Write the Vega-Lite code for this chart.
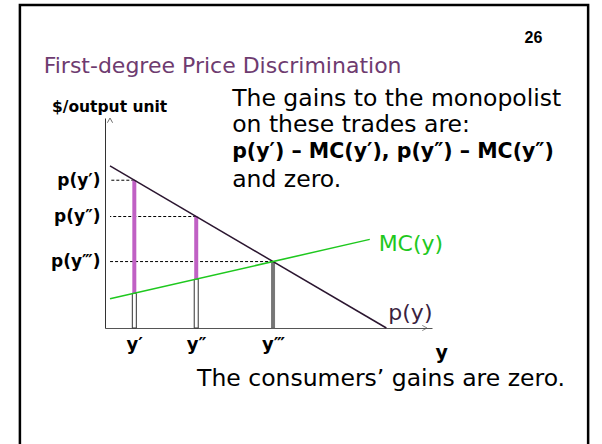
{
  "$schema": "https://vega.github.io/schema/vega-lite/v6.json",
  "autosize": "none",
  "width": 327,
  "height": 210,
  "padding": {"left": 105, "top": 118, "right": 170, "bottom": 116},
  "background": "white",
  "config": {"view": {"stroke": null}},
  "datasets": {
    "trades": [
      {"label": "y′", "plabel": "p(y′)", "q": 0.88, "p": 9.12, "mc": 2.14},
      {"label": "y″", "plabel": "p(y″)", "q": 3.12, "p": 6.88, "mc": 3.02},
      {"label": "y‴", "plabel": "p(y‴)", "q": 5.9, "p": 4.1, "mc": 4.1}
    ],
    "demand": [{"q": 0, "p": 10}, {"q": 10, "p": 0}],
    "mc": [{"q": 0, "p": 1.8}, {"q": 9.4, "p": 5.47}],
    "notes": [
      {"text": "26", "x": 15.0, "y": 17.9, "kind": "num"},
      {"text": "First-degree Price Discrimination", "x": -2.4, "y": 16.17, "kind": "title"},
      {"text": "$/output unit", "x": -2.1, "y": 13.64, "kind": "axis"},
      {"text": "The gains to the monopolist", "x": 4.42, "y": 14.12, "kind": "body"},
      {"text": "on these trades are:", "x": 4.42, "y": 12.54, "kind": "body"},
      {"text": "p(y′) – MC(y′), p(y″) – MC(y″)", "x": 4.42, "y": 10.86, "kind": "bold"},
      {"text": "and zero.", "x": 4.42, "y": 9.14, "kind": "body"},
      {"text": "The consumers’ gains are zero.", "x": 3.15, "y": -3.15, "kind": "body"}
    ]
  },
  "layer": [
    {
      "data": {"values": [{"x1": -3.26, "x2": 17.3, "y1": 19.94, "y2": -8.5}]},
      "mark": {"type": "rect", "fill": null, "stroke": "black", "strokeWidth": 2.5, "clip": false},
      "encoding": {
        "x": {"field": "x1", "type": "quantitative", "scale": {"domain": [0, 11.47], "nice": false, "zero": false}, "axis": {"values": [0.88, 3.12, 5.9], "labelExpr": "datum.value < 2 ? 'y′' : datum.value < 4 ? 'y″' : 'y‴'", "ticks": false, "grid": false, "title": null, "domainColor": "#555", "labelFont": "DejaVu Sans", "labelFontWeight": "bold", "labelFontSize": 18, "labelColor": "black", "labelPadding": 7, "labelFlush": false}},
        "x2": {"field": "x2"},
        "y": {"field": "y1", "type": "quantitative", "scale": {"domain": [0, 12.96], "nice": false, "zero": false}, "axis": {"values": [9.12, 6.88, 4.1], "labelExpr": "datum.value > 8 ? 'p(y′)' : datum.value > 5 ? 'p(y″)' : 'p(y‴)'", "ticks": false, "grid": false, "title": null, "domainColor": "#333", "labelFont": "DejaVu Sans", "labelFontWeight": "bold", "labelFontSize": 17, "labelColor": "black", "labelPadding": 5, "labelFlush": false}},
        "y2": {"field": "y2"}
      }
    },
    {
      "data": {"values": [{"q": 11.47, "p": 0}]},
      "mark": {"type": "point", "shape": "M-1,-0.55L0,0L-1,0.55", "size": 90, "filled": false, "stroke": "#555", "strokeWidth": 1, "clip": false},
      "encoding": {"x": {"field": "q", "type": "quantitative"}, "y": {"field": "p", "type": "quantitative"}}
    },
    {
      "data": {"values": [{"q": 0, "p": 12.96}]},
      "mark": {"type": "point", "shape": "M-0.55,1L0,0L0.55,1", "size": 90, "filled": false, "stroke": "#333", "strokeWidth": 1, "clip": false},
      "encoding": {"x": {"field": "q", "type": "quantitative"}, "y": {"field": "p", "type": "quantitative"}}
    },
    {
      "data": {"name": "trades"},
      "mark": {"type": "rule", "color": "black", "strokeWidth": 1, "strokeDash": [3, 2]},
      "encoding": {"x": {"field": "q", "type": "quantitative"}, "x2": {"datum": 0}, "y": {"field": "p", "type": "quantitative"}}
    },
    {
      "data": {"name": "trades"},
      "transform": [{"filter": "datum.label != 'y‴'"}],
      "mark": {"type": "bar", "size": 4, "fill": "white", "stroke": "#333", "strokeWidth": 1},
      "encoding": {"x": {"field": "q", "type": "quantitative"}, "y": {"field": "mc", "type": "quantitative"}, "y2": {"datum": 0}}
    },
    {
      "data": {"name": "trades"},
      "transform": [{"filter": "datum.label == 'y‴'"}],
      "mark": {"type": "bar", "size": 3, "fill": "#777", "stroke": "#666", "strokeWidth": 0.8},
      "encoding": {"x": {"field": "q", "type": "quantitative"}, "y": {"field": "mc", "type": "quantitative"}, "y2": {"datum": 0}}
    },
    {
      "data": {"name": "trades"},
      "transform": [{"filter": "datum.label != 'y‴'"}],
      "mark": {"type": "rule", "color": "#c060c4", "strokeWidth": 4},
      "encoding": {"x": {"field": "q", "type": "quantitative"}, "y": {"field": "mc", "type": "quantitative"}, "y2": {"field": "p"}}
    },
    {
      "data": {"name": "demand"},
      "mark": {"type": "line", "color": "#2b1630", "strokeWidth": 1.5},
      "encoding": {"x": {"field": "q", "type": "quantitative"}, "y": {"field": "p", "type": "quantitative"}}
    },
    {
      "data": {"name": "mc"},
      "mark": {"type": "line", "color": "#1ec81e", "strokeWidth": 1.5},
      "encoding": {"x": {"field": "q", "type": "quantitative"}, "y": {"field": "p", "type": "quantitative"}}
    },
    {
      "data": {"values": [{"text": "MC(y)", "q": 9.72, "p": 5.19}]},
      "mark": {"type": "text", "align": "left", "baseline": "middle", "font": "DejaVu Sans", "fontSize": 22, "color": "#1ec81e", "clip": false},
      "encoding": {"x": {"field": "q", "type": "quantitative"}, "y": {"field": "p", "type": "quantitative"}, "text": {"field": "text"}}
    },
    {
      "data": {"values": [{"text": "p(y)", "q": 10.07, "p": 0.93}]},
      "mark": {"type": "text", "align": "left", "baseline": "middle", "font": "DejaVu Sans", "fontSize": 22, "color": "#3b1f3f", "clip": false},
      "encoding": {"x": {"field": "q", "type": "quantitative"}, "y": {"field": "p", "type": "quantitative"}, "text": {"field": "text"}}
    },
    {
      "data": {"values": [{"text": "y", "q": 12.0, "p": -1.54}]},
      "mark": {"type": "text", "align": "center", "baseline": "middle", "font": "DejaVu Sans", "fontWeight": "bold", "fontSize": 19, "color": "black", "clip": false},
      "encoding": {"x": {"field": "q", "type": "quantitative"}, "y": {"field": "p", "type": "quantitative"}, "text": {"field": "text"}}
    },
    {
      "data": {"name": "notes"},
      "transform": [{"filter": "datum.kind == 'num'"}],
      "mark": {"type": "text", "align": "left", "baseline": "middle", "font": "Liberation Sans", "fontWeight": "bold", "fontSize": 16, "color": "black", "clip": false},
      "encoding": {"x": {"field": "x", "type": "quantitative"}, "y": {"field": "y", "type": "quantitative"}, "text": {"field": "text"}}
    },
    {
      "data": {"name": "notes"},
      "transform": [{"filter": "datum.kind == 'title'"}],
      "mark": {"type": "text", "align": "left", "baseline": "middle", "font": "DejaVu Sans", "fontSize": 22, "color": "#6e3b70", "clip": false},
      "encoding": {"x": {"field": "x", "type": "quantitative"}, "y": {"field": "y", "type": "quantitative"}, "text": {"field": "text"}}
    },
    {
      "data": {"name": "notes"},
      "transform": [{"filter": "datum.kind == 'axis'"}],
      "mark": {"type": "text", "align": "left", "baseline": "middle", "font": "DejaVu Sans", "fontWeight": "bold", "fontSize": 15.5, "color": "black", "clip": false},
      "encoding": {"x": {"field": "x", "type": "quantitative"}, "y": {"field": "y", "type": "quantitative"}, "text": {"field": "text"}}
    },
    {
      "data": {"name": "notes"},
      "transform": [{"filter": "datum.kind == 'body'"}],
      "mark": {"type": "text", "align": "left", "baseline": "middle", "font": "DejaVu Sans", "fontSize": 23.5, "color": "black", "clip": false},
      "encoding": {"x": {"field": "x", "type": "quantitative"}, "y": {"field": "y", "type": "quantitative"}, "text": {"field": "text"}}
    },
    {
      "data": {"name": "notes"},
      "transform": [{"filter": "datum.kind == 'bold'"}],
      "mark": {"type": "text", "align": "left", "baseline": "middle", "font": "DejaVu Sans", "fontWeight": "bold", "fontSize": 20.5, "color": "black", "clip": false},
      "encoding": {"x": {"field": "x", "type": "quantitative"}, "y": {"field": "y", "type": "quantitative"}, "text": {"field": "text"}}
    }
  ]
}
